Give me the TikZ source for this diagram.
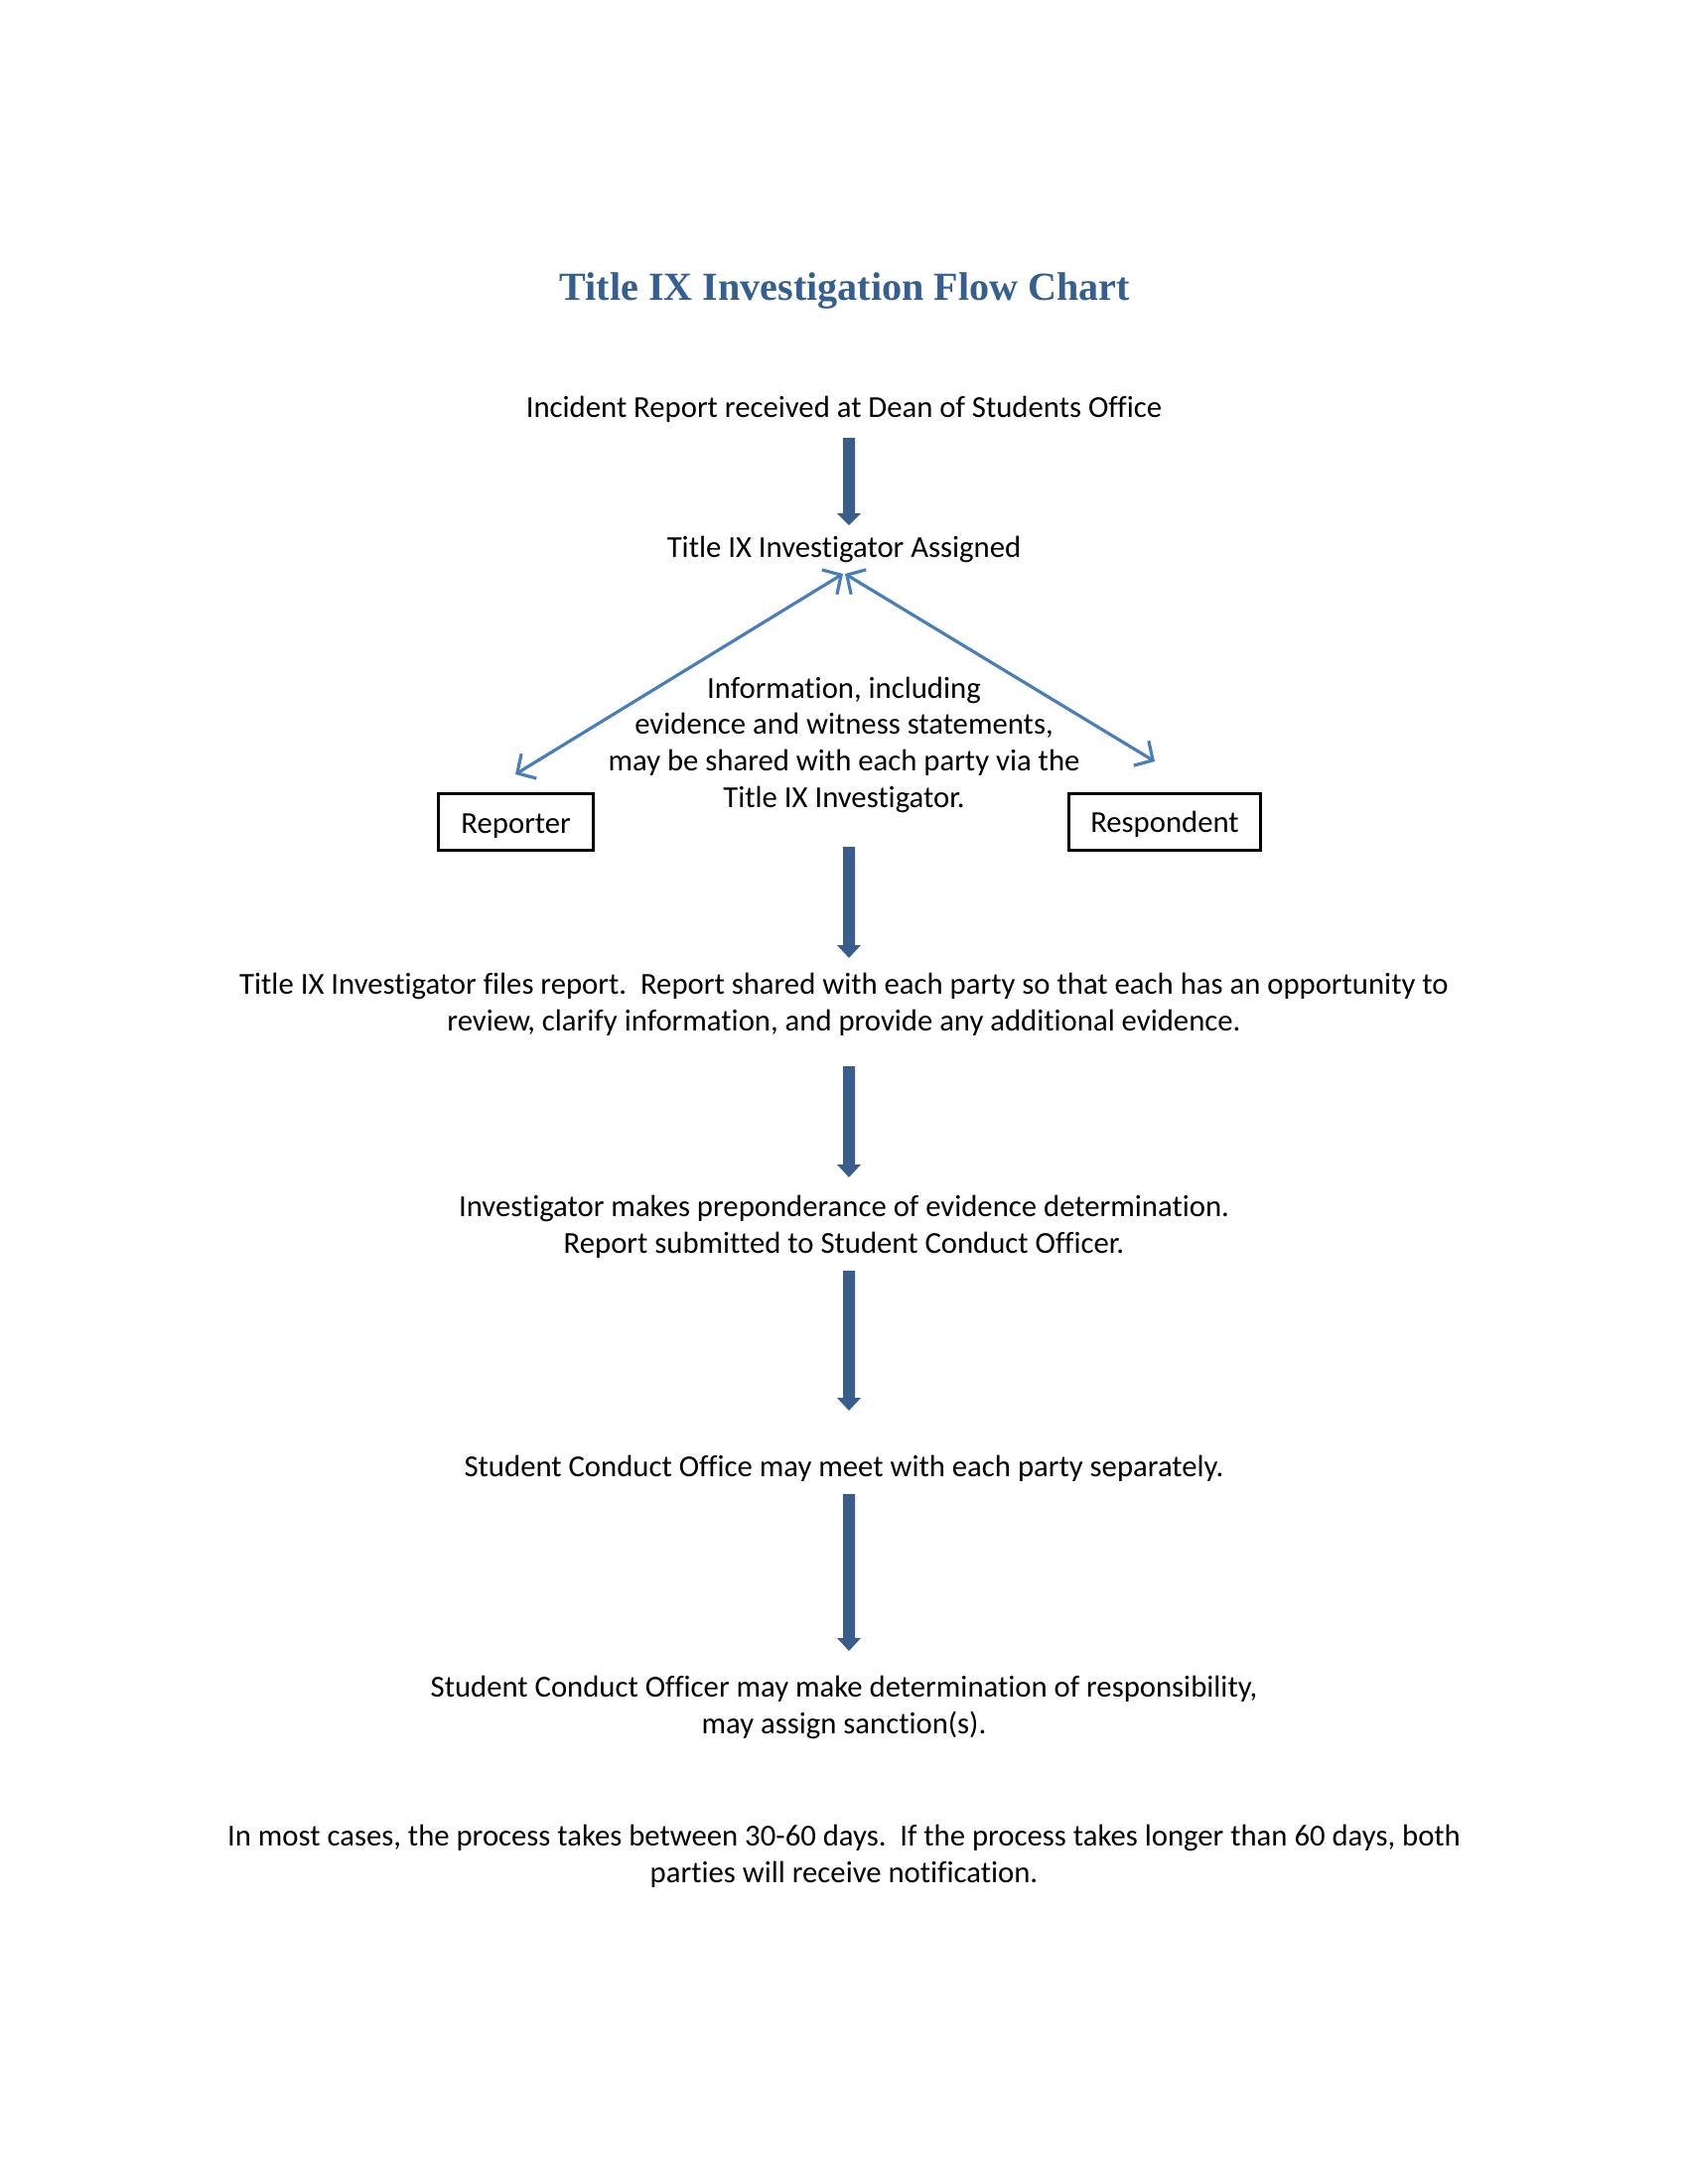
\documentclass[tikz,border=0pt]{standalone}
\usepackage{fontspec}
\setmainfont{Carlito}[Ligatures=NoCommon]
\newfontfamily\titlefont{Liberation Serif}
\usetikzlibrary{arrows.meta}
\definecolor{titleblue}{HTML}{365F91}
\definecolor{blockblue}{HTML}{395E8D}
\definecolor{lineblue}{HTML}{4A7EBB}
\tikzset{
  txt/.style={inner sep=0pt, anchor=base, align=center, font=\fontsize{11.1pt}{13.2pt}\selectfont},
  ttl/.style={inner sep=0pt, anchor=base, text=titleblue, font=\titlefont\bfseries\fontsize{14.5pt}{16pt}\selectfont},
  partybox/.style={draw=black, line width=1.1pt, minimum width=56.3pt, minimum height=20.6pt, inner sep=0pt, text height=7.73pt, text depth=0pt, font=\fontsize{11.1pt}{13.2pt}\selectfont},
  share/.style={draw=lineblue, line width=1.15pt, {Straight Barb[length=5pt,width=10.5pt]}-{Straight Barb[length=5pt,width=10.5pt]}},
}
\newcommand{\blockarrow}[4]{% x, top, headtop, tip
  \fill[blockblue] (#1-6,#2) -- (#1+6,#2) -- (#1+6,#3) -- (#1+12,#3) -- (#1,#4) -- (#1-12,#3) -- (#1-6,#3) -- cycle;}
\begin{document}
\begin{tikzpicture}[x=0.36135pt, y=-0.36135pt]
\useasboundingbox (0,0) rectangle (1700,2200);
\fill[white] (0,0) rectangle (1700,2200);

\node[ttl] (title) at (851,302.7) {Title IX Investigation Flow Chart};

\node[txt] (incident) at (850,420) {Incident Report received at Dean of Students Office};
\blockarrow{855}{441}{517}{529}
\node[txt] (assigned) at (850,561) {Title IX Investigator Assigned};

\coordinate (topL) at (849,578);
\coordinate (topR) at (851,578);
\coordinate (repTip) at (519,780);
\coordinate (resTip) at (1163,767);
\draw[share] (repTip) -- (topL);
\draw[share] (topR) -- (resTip);

\node[txt] (info) at (850,813) {Information, including\\evidence and witness statements,\\may be shared with each party via the\\Title IX Investigator.};

\node[partybox] (reporter) at (519.7,828.3) {Reporter};
\node[partybox, minimum width=69.9pt] (respondent) at (1173,827.7) {Respondent};

\blockarrow{855}{853}{952}{965}
\node[txt] (files) at (850,1038) {Title IX Investigator files report.\ \ Report shared with each party so that each has an opportunity to\\review, clarify information, and provide any additional evidence.};

\blockarrow{855}{1074}{1173}{1186}
\node[txt] (determ) at (850,1262) {Investigator makes preponderance of evidence determination.\\Report submitted to Student Conduct Officer.};

\blockarrow{855}{1280}{1408}{1421}
\node[txt] (meet) at (850,1487) {Student Conduct Office may meet with each party separately.};

\blockarrow{855}{1505}{1650}{1663}
\node[txt] (resp) at (850,1746.5) {Student Conduct Officer may make determination of responsibility,\\may assign sanction(s).};

\node[txt] (note) at (850,1896) {In most cases, the process takes between 30-60 days.\ \ If the process takes longer than 60 days, both\\parties will receive notification.};
\end{tikzpicture}
\end{document}
